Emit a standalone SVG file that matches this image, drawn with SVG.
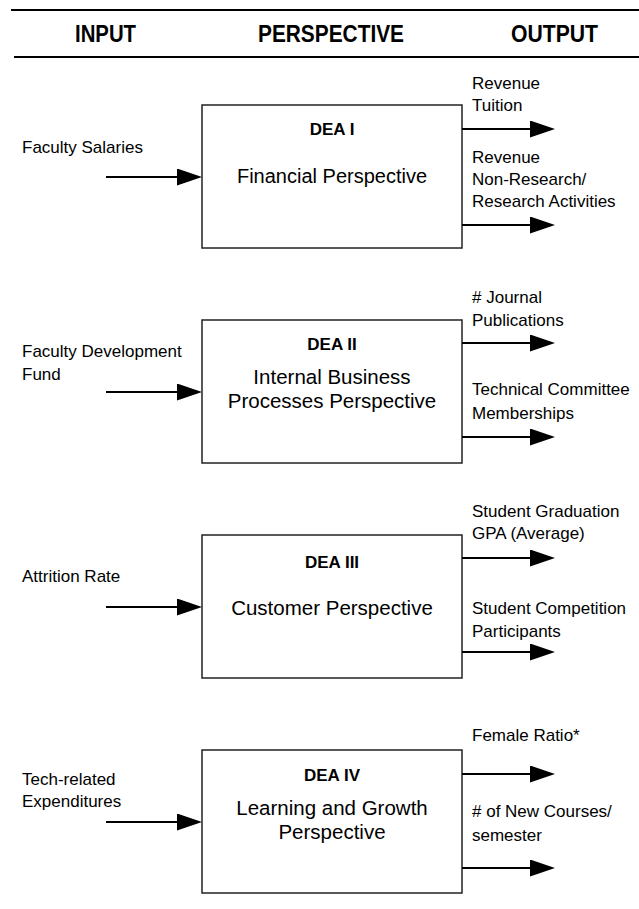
<svg xmlns="http://www.w3.org/2000/svg" width="639" height="909" viewBox="0 0 639 909">
<defs>
<marker id="ah" markerUnits="userSpaceOnUse" markerWidth="25" markerHeight="17" refX="5" refY="8.5" orient="auto">
<path d="M0,0 L25,8.5 L0,17 z" fill="#000"/>
</marker>
<style>
.hd{font-family:"Liberation Sans",Arial,sans-serif;font-weight:bold;font-size:24px;fill:#000}
.t{font-family:"Liberation Sans",Arial,sans-serif;font-size:17px;fill:#000}
.bx{fill:#fff;stroke:#222;stroke-width:1.5}
.dea{font-family:"Liberation Sans",Arial,sans-serif;font-weight:bold;font-size:17px;fill:#000;text-anchor:middle}
.m{font-family:"Liberation Sans",Arial,sans-serif;font-size:20.5px;fill:#000;text-anchor:middle}
.ar{stroke:#000;stroke-width:2;fill:none;marker-end:url(#ah)}
</style>
</defs>
<g id="header">
<line x1="11" y1="10" x2="639" y2="10" stroke="#000" stroke-width="2"/>
<line x1="14" y1="57" x2="639" y2="57" stroke="#000" stroke-width="2"/>
<text class="hd" x="75" y="42" textLength="61" lengthAdjust="spacingAndGlyphs">INPUT</text>
<text class="hd" x="258" y="42" textLength="146" lengthAdjust="spacingAndGlyphs">PERSPECTIVE</text>
<text class="hd" x="511" y="42" textLength="87" lengthAdjust="spacingAndGlyphs">OUTPUT</text>
</g>
<g id="dea1">
<rect class="bx" x="202" y="105" width="260" height="143"/>
<text class="dea" x="332" y="135">DEA I</text>
<text class="m" x="332" y="183" style="font-size:20px">Financial Perspective</text>
</g>
<g id="dea2">
<rect class="bx" x="202" y="320" width="260" height="143"/>
<text class="dea" x="332" y="350">DEA II</text>
<text class="m" x="332" y="384">Internal Business</text>
<text class="m" x="332" y="408">Processes Perspective</text>
</g>
<g id="dea3">
<rect class="bx" x="202" y="535" width="260" height="143"/>
<text class="dea" x="332" y="568">DEA III</text>
<text class="m" x="332" y="615">Customer Perspective</text>
</g>
<g id="dea4">
<rect class="bx" x="202" y="750" width="260" height="143"/>
<text class="dea" x="332" y="781">DEA IV</text>
<text class="m" x="332" y="815">Learning and Growth</text>
<text class="m" x="332" y="839">Perspective</text>
</g>
<g id="labels">
<text class="t" x="22" y="153">Faculty Salaries</text>
<text class="t" x="472" y="89">Revenue</text>
<text class="t" x="472" y="111">Tuition</text>
<text class="t" x="472" y="163">Revenue</text>
<text class="t" x="472" y="185">Non-Research/</text>
<text class="t" x="472" y="207">Research Activities</text>

<text class="t" x="22" y="357">Faculty Development</text>
<text class="t" x="22" y="380">Fund</text>
<text class="t" x="472" y="303"># Journal</text>
<text class="t" x="472" y="326">Publications</text>
<text class="t" x="472" y="395">Technical Committee</text>
<text class="t" x="472" y="419">Memberships</text>

<text class="t" x="22" y="582">Attrition Rate</text>
<text class="t" x="472" y="517">Student Graduation</text>
<text class="t" x="472" y="539">GPA (Average)</text>
<text class="t" x="472" y="614">Student Competition</text>
<text class="t" x="472" y="637">Participants</text>

<text class="t" x="22" y="785">Tech-related</text>
<text class="t" x="22" y="807">Expenditures</text>
<text class="t" x="472" y="741">Female Ratio*</text>
<text class="t" x="472" y="817"># of New Courses/</text>
<text class="t" x="472" y="841">semester</text>
</g>
<g id="connectors">
<line class="ar" x1="106" y1="177" x2="182" y2="177"/>
<line class="ar" x1="462" y1="129" x2="535" y2="129"/>
<line class="ar" x1="462" y1="225" x2="535" y2="225"/>
<line class="ar" x1="106" y1="392" x2="182" y2="392"/>
<line class="ar" x1="462" y1="343" x2="535" y2="343"/>
<line class="ar" x1="462" y1="437" x2="535" y2="437"/>
<line class="ar" x1="106" y1="607" x2="182" y2="607"/>
<line class="ar" x1="462" y1="558" x2="535" y2="558"/>
<line class="ar" x1="462" y1="652" x2="535" y2="652"/>
<line class="ar" x1="106" y1="822" x2="182" y2="822"/>
<line class="ar" x1="462" y1="774" x2="535" y2="774"/>
<line class="ar" x1="462" y1="868" x2="535" y2="868"/>
</g>
</svg>
